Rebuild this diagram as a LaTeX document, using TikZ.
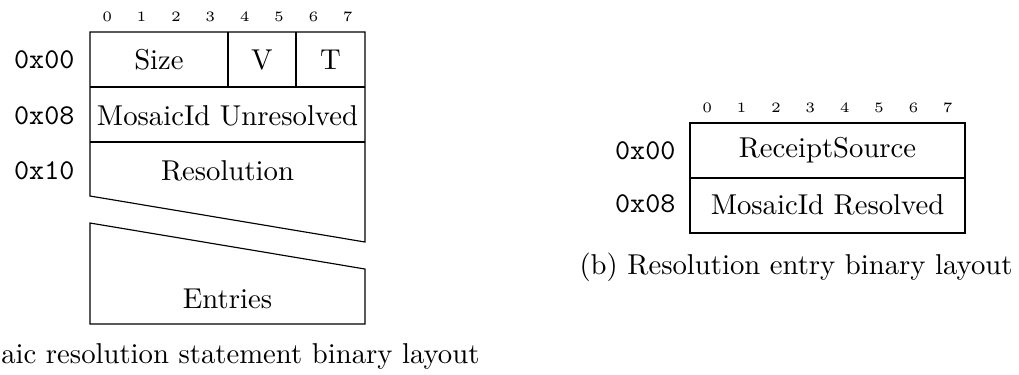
\documentclass[tikz,border=0pt]{standalone}
\usepackage{amsmath, amssymb}
\usepackage{tikz}

\begin{document}
\begin{tikzpicture}
[x=0.3484pt, y=-0.3484pt,
 bitno/.style={font=\tiny, inner sep=0pt},
 addr/.style={font=\ttfamily, anchor=east, inner sep=0pt},
 field/.style={inner sep=0pt},
 outline/.style={thin, black}]
\useasboundingbox (0,0) rectangle (1019,374);
% statement layout
\draw[outline] (90,196) -- (90,32) -- (365,32) -- (365,242) -- cycle;
\draw[outline] (90,87) -- (365,87);
\draw[outline] (90,142) -- (365,142);
\draw[outline] (228,32) -- (228,87);
\draw[outline] (296,32) -- (296,87);
\draw[outline] (90,223) -- (365,269) -- (365,324) -- (90,324) -- cycle;
\node[bitno] (a0) at (107.2,17) {0};
\node[bitno] (a1) at (141.6,17) {1};
\node[bitno] (a2) at (175.9,17) {2};
\node[bitno] (a3) at (210.3,17) {3};
\node[bitno] (a4) at (244.7,17) {4};
\node[bitno] (a5) at (279.1,17) {5};
\node[bitno] (a6) at (313.4,17) {6};
\node[bitno] (a7) at (347.8,17) {7};
\node[addr] (aoff0) at (75,60) {0x00};
\node[addr] (aoff8) at (75,116) {0x08};
\node[addr] (aoff16) at (75,171) {0x10};
\node[field] (size) at (159,60) {Size};
\node[field] (ver) at (262,60) {V};
\node[field] (typ) at (330.5,60) {T};
\node[field] (unres) at (227.5,115.5) {MosaicId Unresolved};
\node[field] (resol) at (227.5,171) {Resolution};
\node[field] (entries) at (227.5,299) {Entries};
\node[anchor=base east, inner sep=0pt] (capa) at (480,363) {aic resolution statement binary layout};
% entry layout
\draw[outline] (690,123) rectangle (965,233);
\draw[outline] (690,178) -- (965,178);
\node[bitno] (b0) at (707.2,108) {0};
\node[bitno] (b1) at (741.6,108) {1};
\node[bitno] (b2) at (775.9,108) {2};
\node[bitno] (b3) at (810.3,108) {3};
\node[bitno] (b4) at (844.7,108) {4};
\node[bitno] (b5) at (879.1,108) {5};
\node[bitno] (b6) at (913.4,108) {6};
\node[bitno] (b7) at (947.8,108) {7};
\node[addr] (boff0) at (676,151) {0x00};
\node[addr] (boff8) at (676,204) {0x08};
\node[field] (source) at (827.5,150.5) {ReceiptSource};
\node[field] (res) at (827.5,205) {MosaicId Resolved};
\node[anchor=base, inner sep=0pt] (capb) at (796,274) {(b) Resolution entry binary layout};
\end{tikzpicture}
\end{document}
